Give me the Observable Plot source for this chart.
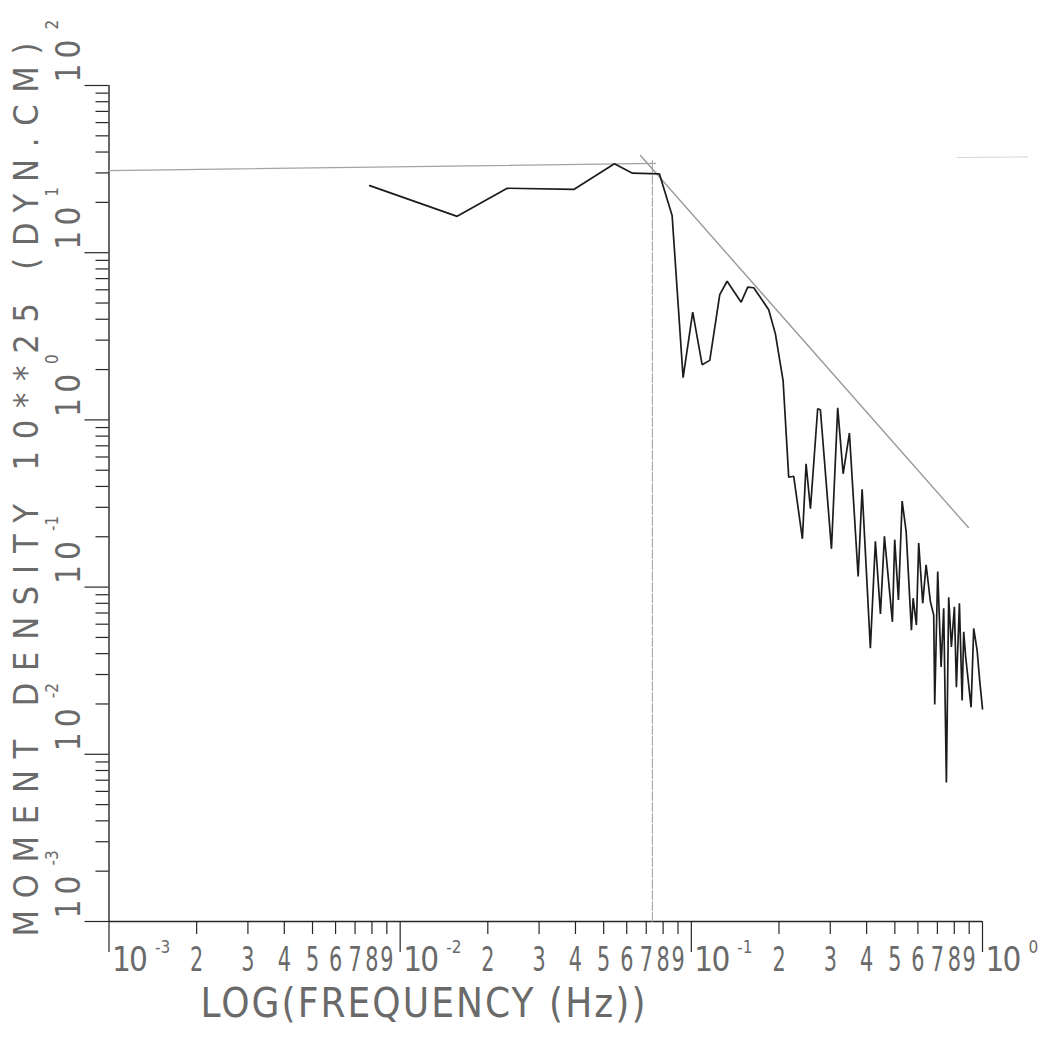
<!DOCTYPE html>
<html>
<head>
<meta charset="utf-8">
<script src="https://cdn.jsdelivr.net/npm/d3@7"></script>
<script src="https://cdn.jsdelivr.net/npm/@observablehq/plot@0.6"></script>
<style>
  html, body { margin: 0; padding: 0; background: #fff; }
  #chart svg { display: block; }
</style>
</head>
<body>
<div id="chart"></div>
<script>
// ---- Data (frequency in Hz, moment density in 10**25 dyn.cm) ----
const frequency = [
  0.00786, 0.01569, 0.02331, 0.03947, 0.05443, 0.06277, 0.07771, 0.0859, 0.0937, 0.1011,
  0.1089, 0.1157, 0.1252, 0.1327, 0.1483, 0.1562, 0.1638, 0.1844, 0.1944, 0.2066,
  0.216, 0.2247, 0.2407, 0.2478, 0.2565, 0.2716, 0.2775, 0.3029, 0.3182, 0.3322,
  0.3491, 0.374, 0.386, 0.412, 0.4287, 0.4462, 0.4604, 0.4905, 0.4994, 0.5144,
  0.5297, 0.5467, 0.57, 0.5778, 0.5929, 0.6038, 0.6233, 0.6402, 0.6624, 0.6799,
  0.6854, 0.7018, 0.7208, 0.7358, 0.7516, 0.7654, 0.7819, 0.8007, 0.8135, 0.8331,
  0.8511, 0.8618, 0.8756, 0.9137, 0.9329, 0.9583, 0.978, 1.0
];
const momentDensity = [
  25.2, 16.5, 24.3, 23.9, 34.0, 29.9, 29.6, 16.7, 1.79, 4.41,
  2.14, 2.27, 5.62, 6.75, 5.06, 6.22, 6.17, 4.56, 3.27, 1.72,
  0.454, 0.46, 0.1945, 0.546, 0.294, 1.165, 1.15, 0.1694, 1.18, 0.476,
  0.833, 0.1156, 0.384, 0.0431, 0.1877, 0.069, 0.2012, 0.062, 0.1922, 0.0838,
  0.3266, 0.2156, 0.0553, 0.0858, 0.0593, 0.1836, 0.08, 0.136, 0.0818, 0.068,
  0.01986, 0.1239, 0.0333, 0.0747, 0.00678, 0.087, 0.0439, 0.0763, 0.0252, 0.08,
  0.021, 0.054, 0.0382, 0.0191, 0.0566, 0.0419, 0.0277, 0.0187
];

// Reference lines (flat level, corner frequency, f^-2 slope, faint stub at top right)
const levelFreq = [0.001, 0.0753];
const levelValue = [31.0, 34.2];
const cornerFreq = [0.0735, 0.0735];
const cornerValue = [0.001, 35.6];
const slopeFreq = [0.0669, 0.8946];
const slopeValue = [38.1, 0.227];
const stubFreq = [0.82, 1.43];
const stubValue = [37.1, 37.4];

// Axis ticks and labels
const xDecades = [0.001, 0.01, 0.1, 1];
const xExponents = ["-3", "-2", "-1", "0"];
const xMinorDecades = [0.001, 0.01, 0.1];
const yDecades = [0.001, 0.01, 0.1, 1, 10, 100];
const yExponents = ["-3", "-2", "-1", "0", "1", "2"];
const yMinorDecades = [0.001, 0.01, 0.1, 1, 10];
const minorDigits = [2, 3, 4, 5, 6, 7, 8, 9];
const xTitle = "LOG(FREQUENCY (Hz))";
const yTitle = "MOMENT DENSITY 10**25 (DYN.CM)";

// ---- Build tables ----
const spectrum = frequency.map((f, i) => ({f, v: momentDensity[i]}));
const pairs = (a, b) => a.map((d, i) => ({f: d, v: b[i]}));
const xMinor = xMinorDecades.flatMap(d => minorDigits.map(k => d * k));
const yMinor = yMinorDecades.flatMap(d => minorDigits.map(k => d * k));

const ink = "#262626";
const txt = "#6a6a6a";
const refc = "#a4a4a4";
const font = "'Liberation Sans Narrow', 'DejaVu Sans Condensed', 'Liberation Sans', sans-serif";

const plot = Plot.plot({
  width: 1056,
  height: 1043,
  marginLeft: 108.5,
  marginRight: 74,
  marginTop: 85,
  marginBottom: 122,
  style: {fontFamily: font, background: "#fff", overflow: "visible"},
  x: {type: "log", domain: [0.001, 1], axis: null},
  y: {type: "log", domain: [0.001, 100], axis: null},
  marks: [
    // axis lines
    Plot.ruleY([0.001], {stroke: ink, strokeWidth: 1.4}),
    Plot.ruleX([0.001], {stroke: ink, strokeWidth: 1.4}),
    // tick marks
    Plot.axisX({ticks: xDecades, tickSize: 31, fill: "none", stroke: ink, strokeWidth: 1.2, label: null}),
    Plot.axisX({ticks: xMinor, tickSize: 13, fill: "none", stroke: ink, strokeWidth: 1.2, label: null}),
    Plot.axisY({ticks: yDecades, tickSize: 24, fill: "none", stroke: ink, strokeWidth: 1.2, label: null}),
    Plot.axisY({ticks: yMinor, tickSize: 13, fill: "none", stroke: ink, strokeWidth: 1.2, label: null}),
    // x tick labels
    Plot.text(xMinor, {x: d => d, frameAnchor: "bottom", dy: 49, text: (d, i) => String(minorDigits[i % 8]),
      fontSize: 33, fill: txt, textAnchor: "middle", className: "minor-x"}),
    Plot.text(xDecades, {x: d => d, frameAnchor: "bottom", dy: 49, dx: 3, text: () => "10",
      fontSize: 33, fill: txt, textAnchor: "start", className: "dec-x"}),
    Plot.text(xDecades, {x: d => d, frameAnchor: "bottom", dy: 31, dx: 46, text: (d, i) => xExponents[i],
      fontSize: 17, fill: txt, textAnchor: "start"}),
    // y tick labels (rotated)
    Plot.text(yDecades, {y: d => d, frameAnchor: "left", dx: -40, dy: -3, rotate: -90, text: () => "10",
      fontSize: 33, fill: txt, textAnchor: "start", className: "dec-y"}),
    Plot.text(yDecades, {y: d => d, frameAnchor: "left", dx: -56, dy: -56, rotate: -90, text: (d, i) => yExponents[i],
      fontSize: 17, fill: txt, textAnchor: "start"}),
    // axis titles
    Plot.text([xTitle], {frameAnchor: "bottom-left", dx: 91.5, dy: 95, text: d => d,
      fontSize: 40, fill: txt, textAnchor: "start", className: "title-x"}),
    Plot.text([yTitle], {frameAnchor: "bottom-left", dx: -71, dy: 15, rotate: -90, text: d => d,
      fontSize: 34, fill: txt, textAnchor: "start", className: "title-y"}),
    // reference lines
    Plot.line(pairs(levelFreq, levelValue), {x: "f", y: "v", stroke: refc, strokeWidth: 1.2}),
    Plot.line(pairs(cornerFreq, cornerValue), {x: "f", y: "v", stroke: refc, strokeWidth: 1.1, strokeDasharray: "9,2"}),
    Plot.line(pairs(slopeFreq, slopeValue), {x: "f", y: "v", stroke: "#9a9a9a", strokeWidth: 1.4}),
    Plot.line(pairs(stubFreq, stubValue), {x: "f", y: "v", stroke: "#d6d6d6", strokeWidth: 1.2}),
    // spectrum
    Plot.line(spectrum, {x: "f", y: "v", stroke: "#1c1c1c", strokeWidth: 1.7, strokeLinejoin: "miter"})
  ]
});

const svg = d3.select(plot);
// narrow the minor digit labels horizontally (plotter-style condensed digits)
svg.selectAll("g.minor-x text").each(function () {
  const el = this;
  const x = el.getAttribute("x");
  const y = el.getAttribute("y");
  let t = el.getAttribute("transform") || "";
  if (x !== null || y !== null) {
    t += ` translate(${x || 0},${y || 0})`;
    el.removeAttribute("x");
    el.removeAttribute("y");
  }
  el.setAttribute("transform", (t + " scale(0.7,1)").trim());
});
svg.selectAll("g.dec-x text").attr("textLength", 36).attr("lengthAdjust", "spacing");
svg.selectAll("g.dec-y text").attr("textLength", 43).attr("lengthAdjust", "spacing");
svg.selectAll("g.title-x text").attr("textLength", 445).attr("lengthAdjust", "spacing");
svg.selectAll("g.title-y text").attr("textLength", 894).attr("lengthAdjust", "spacing");

document.getElementById("chart").appendChild(plot);
</script>
</body>
</html>
